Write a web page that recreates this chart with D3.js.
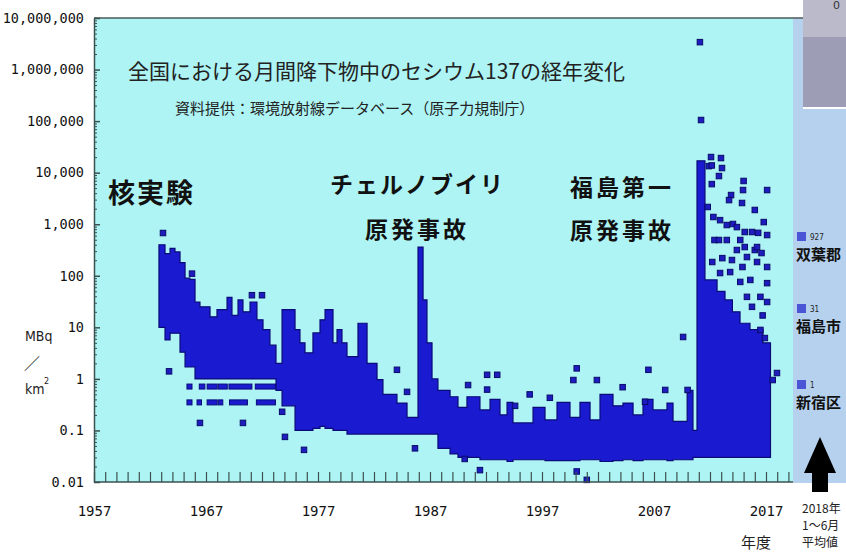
<!DOCTYPE html>
<html><head><meta charset="utf-8">
<script src="https://cdn.jsdelivr.net/npm/d3@7"></script>
<style>body{margin:0;background:#fff} svg{display:block}</style>
</head><body><svg id="c" width="846" height="556"></svg>
<script>
// ---- data ----
const yTickValues = [0.01,0.1,1,10,100,1000,10000,100000,1000000,10000000];
const yTickLabels = ["0.01","0.1","1","10","100","1,000","10,000","100,000","1,000,000","10,000,000"];
const xTickLabels = [1957,1967,1977,1987,1997,2007,2017];

// dense monthly band (upper / lower envelope of all stations), step segments starting at bandYear
const bandYear = [1962.8,1963.34,1963.79,1964.23,1964.68,1965.13,1965.57,1966.02,1966.46,1967.36,1967.98,1968.88,1969.32,1969.86,1970.3,1970.93,1971.55,1972.09,1972.71,1973.25,1973.79,1974.95,1975.39,1975.84,1976.55,1977.18,1977.63,1978.34,1978.7,1979.14,1979.59,1980.57,1981.38,1982.27,1982.8,1984.05,1984.95,1985.93,1986.38,1986.73,1987.18,1987.71,1988.79,1989.5,1990.3,1991.46,1992.36,1993.25,1993.88,1994.41,1996.2,1997.27,1998.34,1999.5,2000.39,2001.29,2002.18,2003.34,2004.23,2005.13,2006.02,2006.91,2008.16,2008.7,2009.96,2010.48,2010.84,2011.55,2012.63,2013.34,2014.0,2014.68,2015.57,2016.73,2017.4];
const bandHi = [400,270,340,290,180,90,85,31,25,16,22,38,17,34,20,31,14,9,4.5,2,22,9,5,3.2,7.8,14,22,5,9,5,2.7,12,2,0.97,0.5,0.34,0.18,360,34,5,1,0.6,0.45,0.28,0.45,0.25,0.4,0.2,0.35,0.14,0.28,0.16,0.35,0.18,0.35,0.16,0.5,0.3,0.34,0.2,0.4,0.25,0.34,0.15,0.6,0.1,17000,83,50,34,20,12,9,5,5];
const bandLo = [10,5.7,7.7,7.7,3.3,1.7,1.7,1,1,1,1,1,1,1,1,1,1,1,1,0.6,0.3,0.1,0.1,0.1,0.11,0.12,0.11,0.1,0.1,0.1,0.085,0.085,0.085,0.085,0.085,0.085,0.085,0.085,0.085,0.085,0.085,0.045,0.035,0.03,0.03,0.027,0.027,0.027,0.025,0.027,0.027,0.026,0.026,0.026,0.027,0.027,0.025,0.026,0.027,0.026,0.027,0.027,0.026,0.027,0.027,0.03,0.03,0.03,0.03,0.03,0.03,0.03,0.03,0.03,0.03];

// individual monthly values standing apart from the band
const outYear = [1963.16,1963.7,1965.75,1971.1,1972.0,1966.46,1970.3,1973.8,1974.05,1975.75,
  1984.05,1984.95,1985.66,1990.1,1991.46,1990.4,1992.1,1993.0,1992.1,1997.7,2000.1,1999.8,2000.1,2001.0,2004.2,2006.5,2009.6,2008.0,2001.9,2006.2,2010.0,1995.9,1994.6,
  2011.1,2011.2,2012.09,2012.98,2011.9,2012.16,2013.07,2012.8,2012.16,2015.0,2014.95,2014.86,2013.88,2013.7,2017.1,2016.0,2016.8,2011.8,2012.3,2012.9,2013.5,2014.05,2014.4,2015.1,2015.75,2016.3,2017.1,2012.4,2012.8,2013.5,2014.7,2015.1,2016.0,2016.6,2013.96,2012.2,2013.1,2014.4,2015.3,2016.2,2013.8,2014.9,2016.2,2017.1,2012.9,2014.7,2015.6,2017.1,2016.5,2015.3,2017.1,2015.75,2016.7,2016.5,2016.9,2017.98,2017.6];
const outValue = [675,1.4,110,42,42,0.14,0.14,0.23,0.075,0.042,
  1.5,0.56,0.045,0.028,0.017,0.76,1.2,1.2,0.62,0.43,1.6,0.95,0.016,0.011,0.69,1.5,6.5,0.61,0.95,0.36,0.61,0.5,0.3,
  3400000,105000,20100,19200,13400,13800,12300,8600,6000,6900,4600,2580,3680,2940,4600,1890,1100,2160,1380,1200,965,1010,880,706,706,680,617,494,494,494,494,361,316,276,202,185,220,316,231,361,118,148,185,148,113,76,83,72,39,39,31,25,17,8.9,6.2,1.3,0.95];

// horizontal runs of identical values (detection-limit rows), 1965-1973
const rowStart = [1965.3,1966.4,1967.1,1968.1,1969.05,1971.4, 1965.3,1966.2,1967.1,1968.1,1969.1,1971.5];
const rowEnd   = [1965.75,1966.9,1968.0,1968.9,1971.1,1973.2, 1965.75,1966.6,1968.0,1968.5,1970.7,1973.2];
const rowValue = [0.71,0.71,0.71,0.71,0.71,0.71, 0.35,0.35,0.35,0.35,0.35,0.35];

const legendValues = ["927","31","1"];
const legendNames = ["双葉郡","福島市","新宿区"];

// ---- drawing ----
const svg = d3.select("#c");
const L = 94, R = 793, T = 18, B = 482;
const x = d3.scaleLinear().domain([1957, 2017]).range([94, 766]);
const y = d3.scaleLog().domain([0.01, 1e7]).range([B, T]);

svg.append("rect").attr("x",0).attr("y",0).attr("width",846).attr("height",556).attr("fill","#fff");
// right panel
svg.append("rect").attr("x",R).attr("y",T).attr("width",846-R).attr("height",B+1-T).attr("fill","#b5d1ee");
// plot background
svg.append("rect").attr("x",L).attr("y",T).attr("width",R-L).attr("height",B-T).attr("fill","#aef4f4");
// top border
svg.append("line").attr("x1",L).attr("x2",803).attr("y1",T).attr("y2",T).attr("stroke","#4a5a5a").attr("stroke-width",1.5);
// grey box at top right
svg.append("rect").attr("x",803).attr("y",0).attr("width",43).attr("height",37).attr("fill","#babacb");
svg.append("rect").attr("x",803).attr("y",37).attr("width",43).attr("height",70).attr("fill","#9d9db5");
svg.append("rect").attr("x",803).attr("y",107).attr("width",43).attr("height",2).attr("fill","#ffffff");
svg.append("text").attr("x",833).attr("y",9).attr("font-family","DejaVu Sans").attr("font-size",11).attr("fill","#333").text("0");

// band
const bandData = bandYear.map((d,i)=>({year:d, hi:bandHi[i], lo:bandLo[i]}));
const area = d3.area().x(d=>x(d.year)).y0(d=>y(d.lo)).y1(d=>y(d.hi)).curve(d3.curveStepAfter);
svg.append("path").datum(bandData).attr("d",area).attr("fill","#1a1ad0").attr("stroke","#0a0a78").attr("stroke-width",1.2);

// rows
const rows = rowStart.map((d,i)=>({s:d, e:rowEnd[i], v:rowValue[i]}));
svg.selectAll("rect.row").data(rows).join("rect").attr("class","row")
  .attr("x",d=>x(d.s)).attr("width",d=>x(d.e)-x(d.s)).attr("y",d=>y(d.v)-2.5).attr("height",5)
  .attr("fill","#1a1ad0").attr("stroke","#0a0a78").attr("stroke-width",1);

// outlier squares
const pts = outYear.map((d,i)=>({year:d, v:outValue[i]}));
svg.selectAll("rect.pt").data(pts).join("rect").attr("class","pt")
  .attr("x",d=>x(d.year)-2.75).attr("y",d=>y(d.v)-2.75).attr("width",5.5).attr("height",5.5)
  .attr("fill","#1c1cc0").attr("stroke","#0a0a6a").attr("stroke-width",1);

// axes
const axisColor = "#3c5050";
const xAxis = d3.axisBottom(x).tickValues(d3.range(1957, 2020)).tickSizeInner(-10).tickSizeOuter(0).tickPadding(24)
  .tickFormat(d => xTickLabels.includes(d) ? String(d) : "");
const gx = svg.append("g").attr("transform",`translate(0,${B})`).call(xAxis);
gx.select(".domain").attr("d",`M${L},0H${R}`).attr("stroke",axisColor).attr("stroke-width",1.5);
gx.selectAll(".tick line").attr("stroke",axisColor).attr("stroke-width",1.2);
gx.selectAll("text").attr("font-family","DejaVu Sans Mono").attr("font-size",14).attr("fill","#111");

const yMinor = d3.axisLeft(y).tickValues(y.ticks().filter(v => !yTickValues.includes(v))).tickSizeInner(-3).tickSizeOuter(0).tickFormat("");
const gym = svg.append("g").attr("transform",`translate(${L},0)`).call(yMinor);
gym.select(".domain").remove();
gym.selectAll(".tick line").attr("stroke",axisColor);

const yAxis = d3.axisLeft(y).tickValues(yTickValues).tickSizeInner(-6).tickSizeOuter(0).tickPadding(10)
  .tickFormat((d,i)=>yTickLabels[i]);
const gy = svg.append("g").attr("transform",`translate(${L},0)`).call(yAxis);
gy.select(".domain").attr("stroke",axisColor).attr("stroke-width",1.5);
gy.selectAll(".tick line").attr("stroke",axisColor).attr("stroke-width",1.5);
gy.selectAll("text").attr("font-family","DejaVu Sans Mono").attr("font-size",13.5).attr("fill","#111");

// y label
const jp = "'Noto Sans CJK JP', sans-serif";
svg.append("text").attr("x",25).attr("y",341).attr("font-family","DejaVu Sans Condensed, DejaVu Sans").attr("font-size",14).attr("fill","#222").text("MBq");
svg.append("text").attr("x",24).attr("y",369).attr("font-family",jp).attr("font-size",16).attr("fill","#222").text("／");
svg.append("text").attr("x",25).attr("y",394).attr("font-family","DejaVu Sans Condensed, DejaVu Sans").attr("font-size",14).attr("fill","#222").text("km");
svg.append("text").attr("x",44).attr("y",384).attr("font-family","DejaVu Sans").attr("font-size",8).attr("fill","#222").text("2");

// titles
svg.append("text").attr("x",128).attr("y",79).attr("font-family",jp).attr("font-size",21).attr("fill","#222").text("全国における月間降下物中のセシウム137の経年変化");
svg.append("text").attr("x",175).attr("y",114).attr("font-family",jp).attr("font-size",15).attr("fill","#222").text("資料提供：環境放射線データベース（原子力規制庁）");

// annotations
function ann(t, xx, yy, size, ls){
  svg.append("text").attr("x",xx).attr("y",yy).attr("font-family",jp).attr("font-weight","bold")
    .attr("font-size",size).attr("letter-spacing",ls).attr("fill","#111").text(t);
}
ann("核実験",108,203,27,2);
ann("チェルノブイリ",330,193,23,2);
ann("原発事故",365,238,23,3);
ann("福島第一",570,196,23,3);
ann("原発事故",570,239,23,3);

// legend in right panel
const legY = [232, 304, 380];
legY.forEach((ly,i)=>{
  svg.append("rect").attr("x",797).attr("y",ly).attr("width",9).attr("height",9).attr("fill","#4a56d6");
  svg.append("text").attr("x",810).attr("y",ly+8).attr("font-family","DejaVu Sans Condensed, DejaVu Sans").attr("font-size",8).attr("fill","#222").text(legendValues[i]);
  svg.append("text").attr("x",796).attr("y",ly+28).attr("font-family",jp).attr("font-weight","bold").attr("font-size",15).attr("fill","#111").text(legendNames[i]);
});

// arrow
svg.append("path").attr("d","M820,437 L836,473 L828,473 L828,492 L812,492 L812,473 L804,473 Z").attr("fill","#000");
svg.append("text").attr("x",802).attr("y",513).attr("font-family",jp).attr("font-size",12).attr("fill","#222").text("2018年");
svg.append("text").attr("x",802).attr("y",530).attr("font-family",jp).attr("font-size",12).attr("fill","#222").text("1～6月");
svg.append("text").attr("x",802).attr("y",547).attr("font-family",jp).attr("font-size",12).attr("fill","#222").text("平均値");
svg.append("text").attr("x",741).attr("y",548).attr("font-family",jp).attr("font-size",15).attr("fill","#222").text("年度");
</script></body></html>
